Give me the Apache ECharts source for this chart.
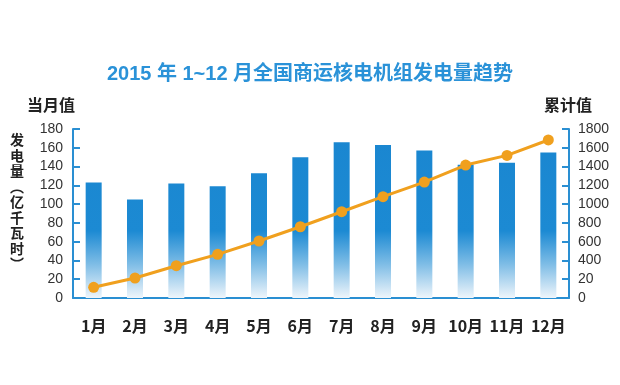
<!DOCTYPE html>
<html><head><meta charset="utf-8">
<script src="https://cdn.jsdelivr.net/npm/echarts@6/dist/echarts.min.js"></script>
<style>html,body{margin:0;padding:0;background:#fff}#c{width:620px;height:385px}</style>
</head><body><div id="c"></div>
<script>
var months = ['1月','2月','3月','4月','5月','6月','7月','8月','9月','10月','11月','12月'];
var monthly = [123,105,122,119,133,150,166,163,157,142,144,155];
var cumulative = [114,213,344,465,607,759,919,1079,1235,1416,1519,1683];
var leftTickLabels = ['0','20','40','60','80','100','120','140','160','180'];
var rightTickLabels = ['0','20','400','600','800','1000','1200','1400','1600','1800'];

var FONT = '"Liberation Sans","Noto Sans CJK SC",sans-serif';
var CJK = '"Noto Sans CJK SC",sans-serif';
var BLUE = '#2a8fd2';
var chart = echarts.init(document.getElementById('c'), null, {renderer:'canvas'});
chart.setOption({
  backgroundColor:'#fff',
  animation:false,
  title:{text:'2015 年 1~12 月全国商运核电机组发电量趋势', left:'center', top:59,
    textStyle:{color:'#2a92d8', fontSize:20, fontWeight:'bold', fontFamily:FONT}},
  grid:{left:73, right:51, top:129, bottom:87},
  graphic:[
    {type:'text', left:27, top:97, style:{text:'当月值', fill:'#222', font:'bold 16px '+CJK}},
    {type:'text', left:544, top:97, style:{text:'累计值', fill:'#222', font:'bold 16px '+CJK}},
    {type:'text', left:10, top:132, style:{text:'发\n电\n量\n︵\n亿\n千\n瓦\n时\n︶', font:'bold 14px '+CJK, lineHeight:15.5, fill:'#222', align:'center'}}
  ],
  xAxis:{type:'category', data:months, boundaryGap:true,
    axisLine:{lineStyle:{color:BLUE, width:2}},
    axisTick:{inside:true, length:6, lineStyle:{color:BLUE, width:2}},
    axisLabel:{interval:0, color:'#222', fontSize:16, fontWeight:'bold', margin:20, fontFamily:CJK}},
  yAxis:[
    {type:'value', min:0, max:180, interval:20, position:'left',
     axisLine:{show:true, lineStyle:{color:BLUE, width:2}},
     axisTick:{show:true, inside:true, length:7, lineStyle:{color:BLUE, width:2}},
     splitLine:{show:false},
     axisLabel:{color:'#333', fontSize:14, margin:10, fontFamily:FONT,
       formatter:function(v){return leftTickLabels[Math.round(v/20)];}}},
    {type:'value', min:0, max:1800, interval:200, position:'right',
     axisLine:{show:true, lineStyle:{color:BLUE, width:2}},
     axisTick:{show:true, inside:true, length:7, lineStyle:{color:BLUE, width:2}},
     splitLine:{show:false},
     axisLabel:{color:'#333', fontSize:14, margin:9, fontFamily:FONT,
       formatter:function(v){return rightTickLabels[Math.round(v/200)];}}}
  ],
  series:[
    {type:'bar', data:monthly, barWidth:16, yAxisIndex:0,
     itemStyle:{color:{type:'linear', x:0, y:130, x2:0, y2:298, global:true,
       colorStops:[{offset:0,color:'#1a86d0'},{offset:0.6,color:'#1c8ad3'},{offset:0.8,color:'#7fbde6'},{offset:1,color:'#eef5fb'}]}}},
    {type:'line', data:cumulative, yAxisIndex:1, symbol:'circle', symbolSize:11,
     lineStyle:{color:'#f0a01e', width:3}, itemStyle:{color:'#f0a01e'}}
  ]
});
</script></body></html>
